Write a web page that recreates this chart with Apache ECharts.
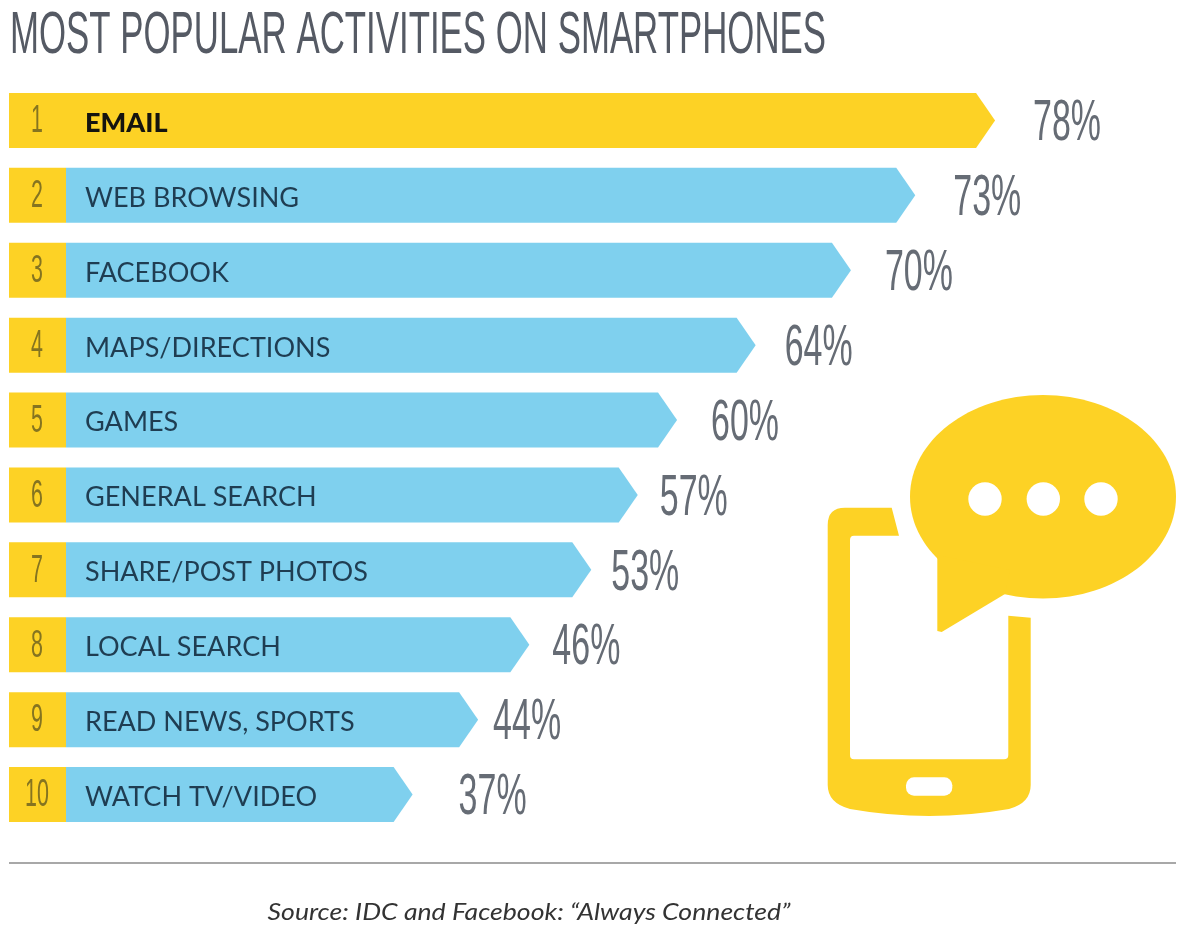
<!DOCTYPE html>
<html>
<head>
<meta charset="utf-8">
<title>Most popular activities on smartphones</title>
<style>
  html, body { margin: 0; padding: 0; background: #fff; }
  #chart { width: 1188px; height: 928px; }
</style>
<script src="https://cdn.jsdelivr.net/npm/echarts@6/dist/echarts.min.js"></script>
</head>
<body>
<div id="chart"></div>
<script>
// Activities, top to bottom
const ACTIVITIES = [
  "EMAIL", "WEB BROWSING", "FACEBOOK", "MAPS/DIRECTIONS", "GAMES",
  "GENERAL SEARCH", "SHARE/POST PHOTOS", "LOCAL SEARCH", "READ NEWS, SPORTS", "WATCH TV/VIDEO"
];

// Printed percentages
const PERCENTS = [78, 73, 70, 64, 60, 57, 53, 46, 44, 37];

// The original bars are not to scale, so the drawn lengths are read separately
// (same axis units, with the 78% bar as the reference)
const BAR_LENGTHS = [78, 71.3, 65.9, 57.9, 51.3, 48, 44.1, 38.9, 34.6, 29.1];

// Layout only: gap between arrow tip and percent label, px
const LABEL_GAPS = [38, 38, 34, 29, 34, 22, 20, 23, 15, 46];

const YELLOW = "#fdd225";
const BLUE = "#7fd0ee";
const NARROW = '"Liberation Sans Narrow", "Liberation Sans", sans-serif';

const measureCtx = document.createElement("canvas").getContext("2d");

// Horizontal squeeze needed to make text fill a target width
function fitScale(text, font, targetWidth) {
  measureCtx.font = font;
  return targetWidth / measureCtx.measureText(text).width;
}

function renderRow(params, api) {
  const i = api.value(2);
  const start = api.coord([0, i]);
  const end = api.coord([api.value(0), i]);
  const h = 55;
  const top = start[1] - h / 2;
  const bottom = top + h;
  const head = 19;
  const x0 = start[0];
  const tip = end[0];

  const numFont = `39px ${NARROW}`;
  const labelFont = i === 0 ? '900 26px Lato, sans-serif' : '400 26px Lato, sans-serif';
  const pctFont = `57px ${NARROW}`;
  const pctText = `${PERCENTS[i]}%`;

  return {
    type: "group",
    children: [
      {
        type: "polygon",
        shape: { points: [[x0, top], [tip - head, top], [tip, start[1]], [tip - head, bottom], [x0, bottom]] },
        style: { fill: i === 0 ? YELLOW : BLUE }
      },
      {
        type: "rect",
        shape: { x: x0 - 57, y: top, width: 57, height: h },
        style: { fill: YELLOW }
      },
      {
        type: "text",
        x: x0 - 29,
        y: start[1] + 1,
        scaleX: 0.55,
        style: { text: String(i + 1), font: numFont, fill: "#857420", align: "center", verticalAlign: "middle" }
      },
      {
        type: "text",
        x: x0 + 19,
        y: start[1] + 3,
        scaleX: 1.04,
        style: {
          text: ACTIVITIES[i],
          font: labelFont,
          fill: i === 0 ? "#15140f" : "#1f3d52",
          align: "left",
          verticalAlign: "middle"
        }
      },
      {
        type: "text",
        x: tip + LABEL_GAPS[i],
        y: start[1] + 4,
        scaleX: fitScale(pctText, pctFont, 68),
        style: { text: pctText, font: pctFont, fill: "#666c75", align: "left", verticalAlign: "middle" }
      }
    ]
  };
}

// Phone body with the gap for the speech bubble
function renderPhone() {
  return {
    type: "path",
    shape: {
      pathData: "M891.7 507.7 L845 507.7 Q827.7 507.7 827.7 525 L827.7 785 Q827.7 803 850 809 Q929 823 1009 809 Q1030.7 803 1030.7 785 L1030.7 617.7 L1008.3 615.7 L1008.3 755 Q1008.3 759.3 1004 759.3 L854 759.3 Q850 759.3 850 755 L850 540 Q850 535.7 854 535.7 L899 535.7 Z",
      layout: "cover",
      x: 827.7, y: 507.7, width: 203, height: 308.3
    },
    style: { fill: YELLOW }
  };
}

const TITLE = "MOST POPULAR ACTIVITIES ON SMARTPHONES";
const TITLE_FONT = `60px ${NARROW}`;

const chart = echarts.init(document.getElementById("chart"), null, { renderer: "canvas" });

chart.setOption({
  animation: false,
  backgroundColor: "#fff",
  grid: { left: 66, top: 83, width: 1072, height: 749 },
  xAxis: { type: "value", min: 0, max: 90, show: false },
  yAxis: { type: "category", inverse: true, data: ACTIVITIES, show: false },
  series: [
    {
      type: "custom",
      clip: false,
      renderItem: renderRow,
      encode: { x: 0, y: 2 },
      data: BAR_LENGTHS.map((len, i) => [len, PERCENTS[i], i])
    },
    {
      type: "custom",
      coordinateSystem: "none",
      renderItem: renderPhone,
      data: [[0]],
      silent: true
    }
  ],
  graphic: [
    {
      type: "text",
      x: 10,
      y: 36,
      scaleX: fitScale(TITLE, TITLE_FONT, 816),
      style: { text: TITLE, font: TITLE_FONT, fill: "#555a64", align: "left", verticalAlign: "middle" }
    },
    {
      type: "ellipse",
      shape: { cx: 1043, cy: 496.7, rx: 133, ry: 101.7 },
      style: { fill: YELLOW }
    },
    {
      type: "polygon",
      shape: { points: [[937.3, 555], [937.3, 631], [941.7, 632], [1005, 594], [1010, 570]] },
      style: { fill: YELLOW }
    },
    { type: "circle", shape: { cx: 985, cy: 499, r: 16.7 }, style: { fill: "#fff" } },
    { type: "circle", shape: { cx: 1043.3, cy: 499, r: 16.7 }, style: { fill: "#fff" } },
    { type: "circle", shape: { cx: 1101, cy: 499, r: 16.7 }, style: { fill: "#fff" } },
    {
      type: "rect",
      shape: { x: 906, y: 777.3, width: 46.3, height: 18.4, r: 8 },
      style: { fill: "#fff" },
      z: 10
    },
    {
      type: "line",
      shape: { x1: 9, y1: 863, x2: 1176, y2: 863 },
      style: { stroke: "#a8a8a8", lineWidth: 2 }
    },
    {
      type: "text",
      x: 529,
      y: 912,
      scaleX: 1.11,
      style: {
        text: "Source: IDC and Facebook: \u201cAlways Connected\u201d",
        font: "italic 24px Lato, sans-serif",
        fill: "#333",
        align: "center",
        verticalAlign: "middle"
      }
    }
  ]
});

window.addEventListener("resize", () => chart.resize());
</script>
</body>
</html>
